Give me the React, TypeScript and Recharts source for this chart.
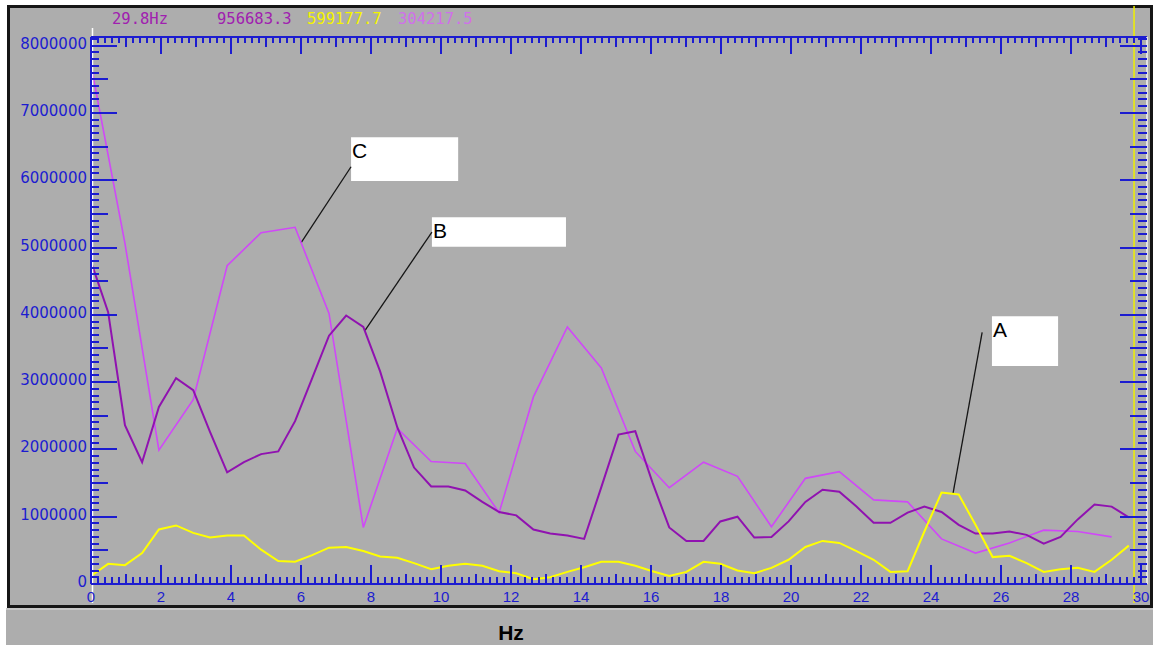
import { Line, LineChart, ReferenceArea, ReferenceLine, XAxis, YAxis } from 'recharts'

// frequency bins (Hz)
const hz = [
  0, 0.49, 0.97, 1.46, 1.94, 2.43, 2.92, 3.4, 3.89, 4.37, 4.86, 5.35, 5.83, 6.32, 6.8, 7.29,
  7.78, 8.26, 8.75, 9.23, 9.72, 10.21, 10.69, 11.18, 11.66, 12.15, 12.64, 13.12, 13.61, 14.09,
  14.58, 15.07, 15.55, 16.04, 16.52, 17.01, 17.5, 17.98, 18.47, 18.95, 19.44, 19.93, 20.41,
  20.9, 21.38, 21.87, 22.36, 22.84, 23.33, 23.81, 24.3, 24.79, 25.27, 25.76, 26.24, 26.73,
  27.22, 27.7, 28.19, 28.67, 29.16, 29.65,
]

// A (amarelo)
const seriesA = [
  120000, 300000, 280000, 460000, 810000, 870000, 760000, 690000, 720000, 720000,
  510000, 340000, 330000, 430000, 540000, 550000, 490000, 410000, 390000, 310000,
  220000, 270000, 300000, 270000, 190000, 160000, 70000, 100000, 180000, 250000,
  330000, 330000, 270000, 190000, 120000, 180000, 330000, 300000, 200000, 160000,
  240000, 360000, 550000, 640000, 610000, 490000, 360000, 180000, 190000, 780000,
  1360000, 1330000, 880000, 400000, 420000, 310000, 180000, 220000, 240000, 180000,
  360000, 570000,
]

// B (roxo escuro)
const seriesB = [
  4790000, 4040000, 2360000, 1810000, 2630000, 3060000, 2880000, 2260000, 1660000, 1810000,
  1930000, 1970000, 2420000, 3060000, 3690000, 3990000, 3820000, 3160000, 2330000, 1730000,
  1450000, 1450000, 1390000, 1220000, 1070000, 1020000, 810000, 750000, 720000, 670000,
  1440000, 2220000, 2270000, 1510000, 840000, 640000, 640000, 930000, 1000000, 690000,
  700000, 930000, 1220000, 1400000, 1370000, 1150000, 910000, 910000, 1060000, 1150000,
  1070000, 880000, 750000, 750000, 780000, 730000, 600000, 700000, 960000, 1180000,
  1150000, 990000,
]

// C (magenta) - one value every other bin
const seriesC = [
  7710000, 5060000, 1990000, 2740000, 4730000, 5220000, 5300000, 4020000, 840000, 2310000,
  1820000, 1790000, 1060000, 2780000, 3820000, 3210000, 1970000, 1430000, 1810000, 1600000,
  850000, 1570000, 1670000, 1250000, 1220000, 670000, 460000, 610000, 800000, 780000, 700000,
]

const xLabelTicks = [0, 2, 4, 6, 8, 10, 12, 14, 16, 18, 20, 22, 24, 26, 28, 30]
const yLabelTicks = [0, 1000000, 2000000, 3000000, 4000000, 5000000, 6000000, 7000000, 8000000]

const cursorHz = 29.8
const readout = ['29.8Hz', '956683.3', '599177.7', '304217.5']

const callouts = [
  { name: 'C', from: [6.0, 5070000], to: [7.43, 6200000], box: [7.43, 10.49, 5990000, 6640000] },
  { name: 'B', from: [7.83, 3770000], to: [9.74, 5230000], box: [9.74, 13.57, 5010000, 5450000] },
  { name: 'A', from: [24.63, 1350000], to: [25.46, 3740000], box: [25.74, 27.63, 3240000, 3980000] },
]

const data = hz.map((f, i) => ({
  hz: f,
  a: seriesA[i],
  b: seriesB[i],
  c: i % 2 === 0 ? seriesC[i / 2] : null,
}))

const GRAY = '#adadad'
const BLUE = '#1c1cd0'
const X_MAX = 30.17
const Y_MAX = 8128000

// ticks menores (decoração de eixo)
const xMinor = Array.from({ length: 151 }, (_, k) => k / 5)
const yMinor = Array.from({ length: 82 }, (_, k) => k * 100000)

function BottomTick({ x, y, payload }: any) {
  const k = Math.round(payload.value * 5)
  const len = k % 10 === 0 ? 19 : k % 5 === 0 ? 10 : 7
  const xx = Math.round(x)
  const isLabel = xLabelTicks.includes(payload.value)
  return (
    <g>
      <line x1={xx} x2={xx} y1={y} y2={y - len} stroke={BLUE} strokeWidth={2} />
      {isLabel && (
        <text x={xx} y={y + 18} textAnchor="middle" fill={BLUE} fontSize={15} fontFamily="Liberation Sans, Arial, sans-serif">
          {payload.value}
        </text>
      )}
    </g>
  )
}

function TopTick({ x, y, payload }: any) {
  const k = Math.round(payload.value * 5)
  const len = k % 10 === 0 ? 17 : k % 5 === 0 ? 10 : 6
  const xx = Math.round(x)
  return <line x1={xx} x2={xx} y1={y} y2={y + len} stroke={BLUE} strokeWidth={2} />
}

function LeftTick({ x, y, payload }: any) {
  const k = Math.round(payload.value / 100000)
  const len = k % 10 === 0 ? 26 : k % 5 === 0 ? 17 : 8
  const yy = Math.round(y)
  const isLabel = yLabelTicks.includes(payload.value)
  return (
    <g>
      <line x1={x} x2={x + len} y1={yy} y2={yy} stroke={BLUE} strokeWidth={2} />
      {isLabel && (
        <text x={x - 4} y={yy + 3} textAnchor="end" fill={BLUE} fontSize={15} fontFamily="DejaVu Sans, sans-serif">
          {payload.value}
        </text>
      )}
    </g>
  )
}

function RightTick({ x, y, payload }: any) {
  const k = Math.round(payload.value / 100000)
  const len = k % 10 === 0 ? 27 : k % 5 === 0 ? 17 : 9
  const yy = Math.round(y)
  return <line x1={x} x2={x - len} y1={yy} y2={yy} stroke={BLUE} strokeWidth={2} />
}

function CalloutLabel({ viewBox, text }: any) {
  if (!viewBox) return null
  return (
    <text x={viewBox.x + 1} y={viewBox.y + 21} fill="#000" fontSize={21} fontFamily="Liberation Sans, Arial, sans-serif">
      {text}
    </text>
  )
}

export default function App() {
  return (
    <div style={{ position: 'absolute', left: 0, top: 0, width: 1156, height: 645, background: '#fff', overflow: 'hidden' }}>
      <div
        style={{
          position: 'absolute', left: 7, top: 5, width: 1146, height: 603,
          background: GRAY, border: '3px solid #161616', boxSizing: 'border-box',
        }}
      />
      <div
        style={{
          position: 'absolute', left: 6, top: 608, width: 1147, height: 37,
          background: GRAY, borderTop: '2px solid #c6c6c6', boxSizing: 'border-box',
        }}
      />
      <div style={{ position: 'absolute', left: 0, top: 0 }}>
        <LineChart width={1156} height={645} data={data} margin={{ top: 36, right: 8, bottom: 60, left: 90 }}>
          <XAxis
            xAxisId="bottom"
            dataKey="hz"
            type="number"
            domain={[0, X_MAX]}
            ticks={xMinor}
            interval={0}
            height={1}
            tickSize={0}
            tickMargin={0}
            tick={BottomTick}
            axisLine={{ stroke: BLUE, strokeWidth: 2 }}
            allowDataOverflow
          />
          <XAxis
            xAxisId="top"
            orientation="top"
            dataKey="hz"
            type="number"
            domain={[0, X_MAX]}
            ticks={xMinor}
            interval={0}
            height={1}
            tickSize={0}
            tickMargin={0}
            tick={TopTick}
            axisLine={{ stroke: BLUE, strokeWidth: 2 }}
            allowDataOverflow
          />
          <YAxis
            yAxisId="left"
            type="number"
            domain={[0, Y_MAX]}
            ticks={yMinor}
            interval={0}
            width={1}
            tickSize={0}
            tickMargin={0}
            tick={LeftTick}
            axisLine={{ stroke: BLUE, strokeWidth: 2 }}
            allowDataOverflow
          />
          <YAxis
            yAxisId="right"
            orientation="right"
            type="number"
            domain={[0, Y_MAX]}
            ticks={yMinor}
            interval={0}
            width={1}
            tickSize={0}
            tickMargin={0}
            tick={RightTick}
            axisLine={{ stroke: '#f4f4f4', strokeWidth: 1.5 }}
            allowDataOverflow
          />

          {callouts.map((c) => (
            <ReferenceLine
              key={'l' + c.name}
              xAxisId="bottom"
              yAxisId="left"
              segment={[
                { x: c.from[0], y: c.from[1] },
                { x: c.to[0], y: c.to[1] },
              ]}
              stroke="#151515"
              strokeWidth={1.3}
            />
          ))}
          {callouts.map((c) => (
            <ReferenceArea
              key={'b' + c.name}
              xAxisId="bottom"
              yAxisId="left"
              x1={c.box[0]}
              x2={c.box[1]}
              y1={c.box[2]}
              y2={c.box[3]}
              fill="#ffffff"
              fillOpacity={1}
              stroke="none"
              label={<CalloutLabel text={c.name} />}
            />
          ))}

          <Line xAxisId="bottom" yAxisId="left" type="linear" dataKey="c" stroke="#d048f8" strokeWidth={1.6} dot={false} connectNulls isAnimationActive={false} />
          <Line xAxisId="bottom" yAxisId="left" type="linear" dataKey="b" stroke="#9012b0" strokeWidth={2} dot={false} isAnimationActive={false} />
          <Line xAxisId="bottom" yAxisId="left" type="linear" dataKey="a" stroke="#ffff00" strokeWidth={2} dot={false} isAnimationActive={false} />

          {/* cursores */}
          <ReferenceLine
            xAxisId="bottom"
            yAxisId="left"
            x={0}
            ifOverflow="visible"
            shape={(p: any) => (
              <line x1={p.x1 + 1.5} x2={p.x2 + 1.5} y1={Math.min(p.y1, p.y2) - 9} y2={Math.max(p.y1, p.y2) + 19} stroke="#ffffff" strokeWidth={1.5} />
            )}
          />
          <ReferenceLine
            xAxisId="bottom"
            yAxisId="left"
            x={cursorHz}
            ifOverflow="visible"
            shape={(p: any) => (
              <line x1={p.x1} x2={p.x2} y1={Math.min(p.y1, p.y2) - 31} y2={Math.max(p.y1, p.y2) + 19} stroke="#f0f000" strokeWidth={1.5} />
            )}
          />
        </LineChart>
      </div>
      <svg width={1156} height={645} style={{ position: 'absolute', left: 0, top: 0, pointerEvents: 'none' }}>
        <g fontFamily="DejaVu Sans Mono, monospace" fontSize={15.5}>
          <text x={112} y={24} fill="#a020b0">{readout[0]}</text>
          <text x={217} y={24} fill="#a020b0">{readout[1]}</text>
          <text x={307} y={24} fill="#f4f400">{readout[2]}</text>
          <text x={398} y={24} fill="#d070ea">{readout[3]}</text>
        </g>
        <text x={511} y={640} textAnchor="middle" fill="#000" fontSize={21} fontWeight="bold" fontFamily="Liberation Sans, Arial, sans-serif">
          Hz
        </text>
      </svg>
    </div>
  )
}
